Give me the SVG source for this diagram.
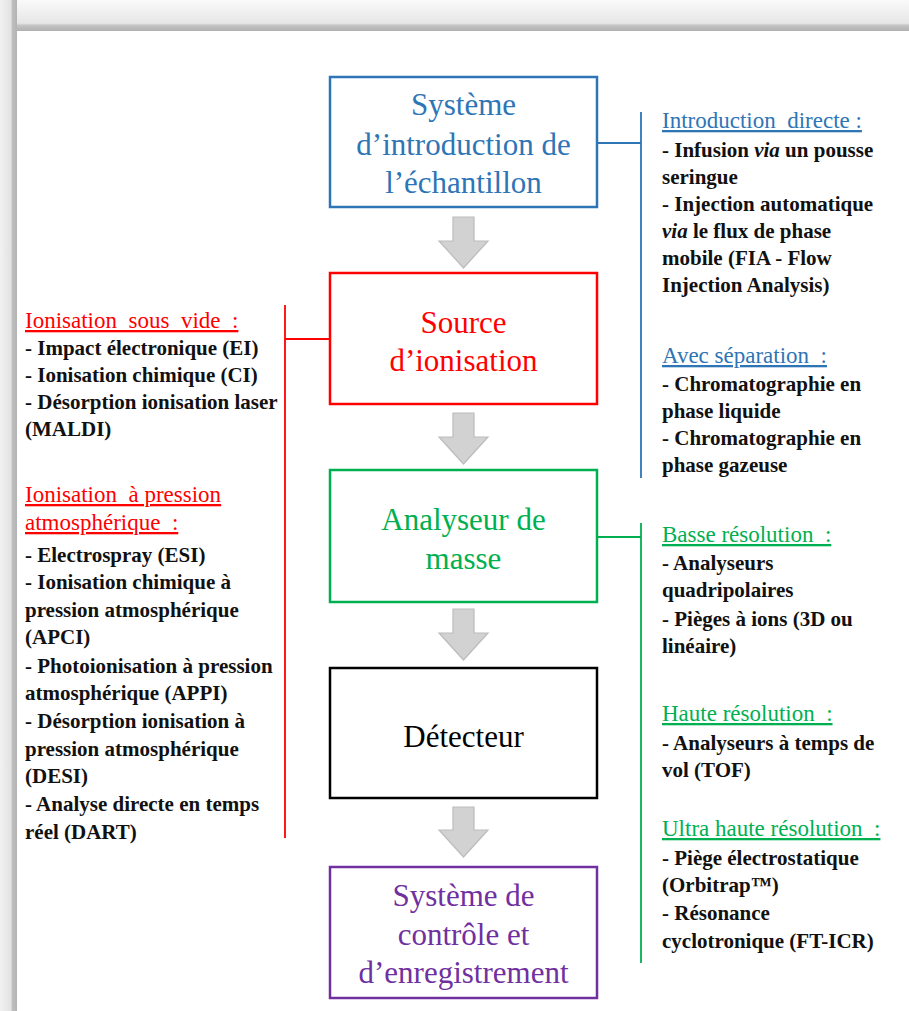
<svg xmlns="http://www.w3.org/2000/svg" width="909" height="1011" viewBox="0 0 909 1011">
<defs>
<linearGradient id="shTop" x1="0" y1="0" x2="0" y2="1">
<stop offset="0" stop-color="#fafafa"/>
<stop offset="0.75" stop-color="#e6e6e6"/>
<stop offset="0.82" stop-color="#c4c4c4"/>
<stop offset="1" stop-color="#b0b0b0"/>
</linearGradient>
<linearGradient id="shLeft" x1="0" y1="0" x2="1" y2="0">
<stop offset="0" stop-color="#f2f2f2"/>
<stop offset="0.65" stop-color="#e2e2e2"/>
<stop offset="0.72" stop-color="#c0c0c0"/>
<stop offset="1" stop-color="#b3b3b3"/>
</linearGradient>
<style>
.box{fill:#fff;stroke-width:2.5}
.title{font-family:"Liberation Serif","Times New Roman",serif;font-size:31px;text-anchor:middle}
.hd{font-family:"Liberation Serif","Times New Roman",serif;font-size:23px;text-decoration:underline;white-space:pre}
.it{font-family:"Liberation Serif","Times New Roman",serif;font-size:21px;font-weight:bold;fill:#111}
.arrow{fill:#d2d2d2;stroke:#bcbcbc;stroke-width:1.2}
.blue{fill:#2E75B6}
.red{fill:#FF0000}
.green{fill:#00B050}
.purple{fill:#7030A0}
</style>
</defs>
<rect x="0" y="0" width="909" height="1011" fill="#ffffff"/>
<rect x="0" y="0" width="909" height="31" fill="url(#shTop)"/>
<rect x="0" y="0" width="17" height="1011" fill="url(#shLeft)"/>

<g id="connectors" fill="none" stroke-width="1.8">
<path d="M597 143 H641 M641 112 V478" stroke="#2E75B6"/>
<path d="M330 339 H285 M285 305 V838" stroke="#FF0000"/>
<path d="M597 537 H641 M641 523 V963" stroke="#00B050"/>
<path class="arrow" d="M453 217 H474 V241 H488 L463.5 268 L439 241 H453 Z"/>
<path class="arrow" d="M453 413 H474 V437 H488 L463.5 464 L439 437 H453 Z"/>
<path class="arrow" d="M453 609 H474 V633 H488 L463.5 660 L439 633 H453 Z"/>
<path class="arrow" d="M453 807 H474 V830 H488 L463.5 857 L439 830 H453 Z"/>
</g>

<g id="n-intro">
<rect class="box" x="330" y="77" width="267" height="130" stroke="#2E75B6"/>
<text class="title blue" x="463.5" y="115">Système</text>
<text class="title blue" x="463.5" y="155">d’introduction de</text>
<text class="title blue" x="463.5" y="193">l’échantillon</text>
</g>

<g id="n-source">
<rect class="box" x="330" y="273" width="267" height="131" stroke="#FF0000"/>
<text class="title red" x="463.5" y="333">Source</text>
<text class="title red" x="463.5" y="371">d’ionisation</text>
</g>

<g id="n-analyseur">
<rect class="box" x="330" y="470" width="267" height="132" stroke="#00B050"/>
<text class="title green" x="463.5" y="530">Analyseur de</text>
<text class="title green" x="463.5" y="569">masse</text>
</g>

<g id="n-detecteur">
<rect class="box" x="330" y="668" width="267" height="130" stroke="#000000"/>
<text class="title" x="463.5" y="747" fill="#000">Détecteur</text>
</g>

<g id="n-controle">
<rect class="box" x="330" y="867" width="267" height="131" stroke="#7030A0"/>
<text class="title purple" x="463.5" y="906">Système de</text>
<text class="title purple" x="463.5" y="945">contrôle et</text>
<text class="title purple" x="463.5" y="983">d’enregistrement</text>
</g>

<g id="n-intro-list">
<text class="hd blue" x="662" y="128" xml:space="preserve">Introduction  directe :</text>
<text class="it" x="662" y="157">- Infusion <tspan font-style="italic">via</tspan> un pousse</text>
<text class="it" x="662" y="184">seringue</text>
<text class="it" x="662" y="211">- Injection automatique</text>
<text class="it" x="662" y="238"><tspan font-style="italic">via</tspan> le flux de phase</text>
<text class="it" x="662" y="265">mobile (FIA - Flow</text>
<text class="it" x="662" y="292">Injection Analysis)</text>
<text class="hd blue" x="662" y="363" xml:space="preserve">Avec séparation  :</text>
<text class="it" x="662" y="391">- Chromatographie en</text>
<text class="it" x="662" y="418">phase liquide</text>
<text class="it" x="662" y="445">- Chromatographie en</text>
<text class="it" x="662" y="472">phase gazeuse</text>
</g>

<g id="n-ionisation-list">
<text class="hd red" x="25" y="328" xml:space="preserve">Ionisation  sous  vide  :</text>
<text class="it" x="25" y="355">- Impact électronique (EI)</text>
<text class="it" x="25" y="382">- Ionisation chimique (CI)</text>
<text class="it" x="25" y="409">- Désorption ionisation laser</text>
<text class="it" x="25" y="436">(MALDI)</text>
<text class="hd red" x="25" y="502" xml:space="preserve">Ionisation  à pression</text>
<text class="hd red" x="25" y="530" xml:space="preserve">atmosphérique  :</text>
<text class="it" x="25" y="562">- Electrospray (ESI)</text>
<text class="it" x="25" y="589">- Ionisation chimique à</text>
<text class="it" x="25" y="617">pression atmosphérique</text>
<text class="it" x="25" y="644">(APCI)</text>
<text class="it" x="25" y="673">- Photoionisation à pression</text>
<text class="it" x="25" y="700">atmosphérique (APPI)</text>
<text class="it" x="25" y="728">- Désorption ionisation à</text>
<text class="it" x="25" y="756">pression atmosphérique</text>
<text class="it" x="25" y="783">(DESI)</text>
<text class="it" x="25" y="811">- Analyse directe en temps</text>
<text class="it" x="25" y="839">réel (DART)</text>
</g>

<g id="n-analyseur-list">
<text class="hd green" x="662" y="542" xml:space="preserve">Basse résolution  :</text>
<text class="it" x="662" y="570">- Analyseurs</text>
<text class="it" x="662" y="597">quadripolaires</text>
<text class="it" x="662" y="626">- Pièges à ions (3D ou</text>
<text class="it" x="662" y="653">linéaire)</text>
<text class="hd green" x="662" y="721" xml:space="preserve">Haute résolution  :</text>
<text class="it" x="662" y="750">- Analyseurs à temps de</text>
<text class="it" x="662" y="777">vol (TOF)</text>
<text class="hd green" x="662" y="836" xml:space="preserve">Ultra haute résolution  :</text>
<text class="it" x="662" y="865">- Piège électrostatique</text>
<text class="it" x="662" y="892">(Orbitrap™)</text>
<text class="it" x="662" y="920">- Résonance</text>
<text class="it" x="662" y="948">cyclotronique (FT-ICR)</text>
</g>
</svg>
